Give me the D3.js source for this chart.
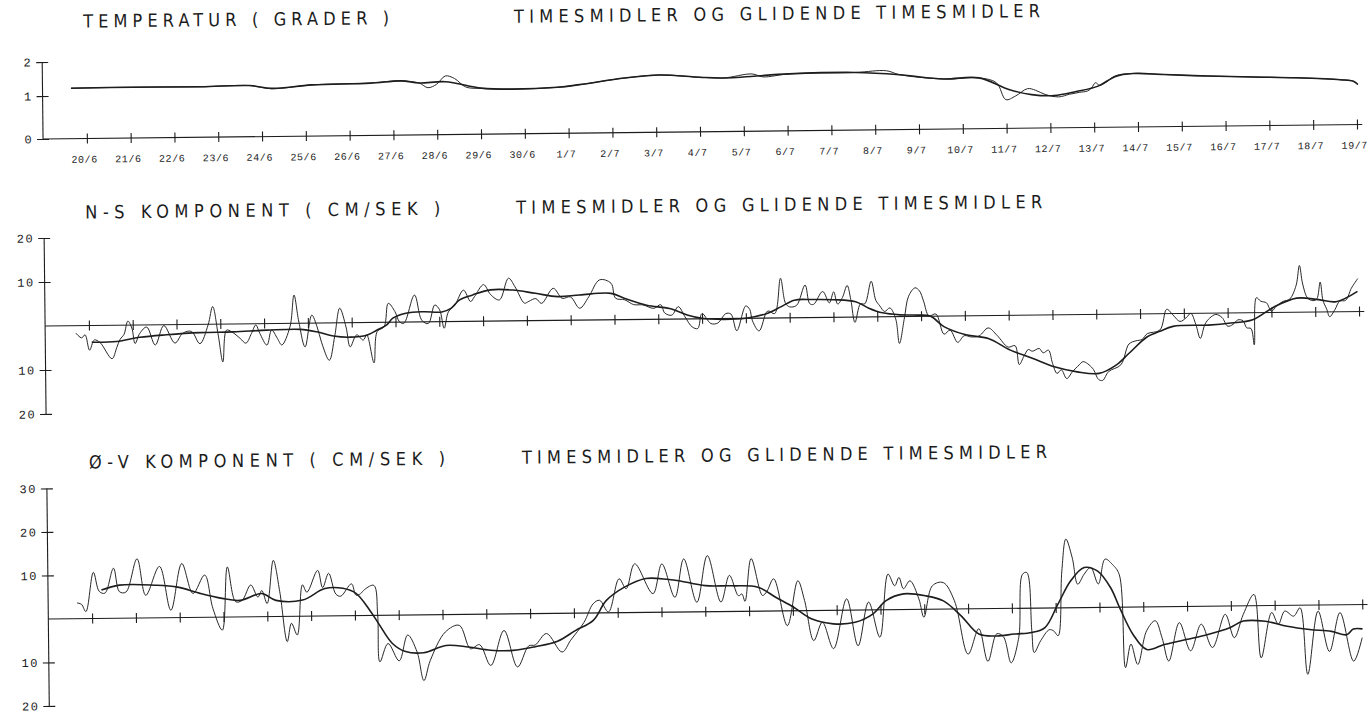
<!DOCTYPE html>
<html>
<head>
<meta charset="utf-8">
<script src="https://cdn.jsdelivr.net/npm/d3@7"></script>
<style>
  html, body { margin: 0; padding: 0; background: #ffffff; }
  svg { display: block; }
  text { font-family: "Liberation Mono", "DejaVu Sans Mono", monospace; fill: #1c1c1c; }
  .title { font-family: "Liberation Sans Narrow", "DejaVu Sans Condensed", "Liberation Sans", sans-serif; }
</style>
</head>
<body>
<svg id="chart" width="1371" height="714"></svg>
<script>
// ---- date labels under the temperature panel (day 1 = 20/6 ... day 30 = 19/7) ----
const dateLabels = ["20/6","21/6","22/6","23/6","24/6","25/6","26/6","27/6","28/6","29/6","30/6",
  "1/7","2/7","3/7","4/7","5/7","6/7","7/7","8/7","9/7","10/7","11/7","12/7","13/7","14/7",
  "15/7","16/7","17/7","18/7","19/7"];

// ---- temperature (grader): [day, value] ----
const tempHourly = [[0.65,1.22],[2.08,1.23],[3.61,1.22],[4.73,1.24],[5.23,1.14],[6.15,1.24],[7.48,1.28],
  [8.19,1.33],[8.60,1.26],[8.80,1.12],[9.00,1.22],[9.20,1.46],[9.41,1.38],[9.66,1.13],[10.02,1.08],
  [10.73,1.05],[11.76,1.09],[12.26,1.16],[13.29,1.34],[14.10,1.42],[15.00,1.34],[15.55,1.31],[16.20,1.42],
  [16.45,1.33],[17.05,1.41],[18.56,1.43],[19.27,1.47],[19.57,1.35],[20.57,1.21],[21.38,1.23],[21.78,1.08],
  [21.99,0.67],[22.21,0.75],[22.49,0.92],[22.67,0.88],[22.89,0.78],[23.20,0.72],[23.45,0.78],[23.67,0.82],
  [23.86,0.85],[23.95,0.92],[24.04,1.05],[24.13,0.98],[24.27,1.05],[24.50,1.25],[24.90,1.31],[25.61,1.27],
  [26.61,1.21],[27.62,1.17],[28.62,1.13],[29.63,1.06],[29.93,1.01],[30.03,0.93]];
const tempSmooth = [[0.65,1.22],[2.08,1.23],[3.61,1.22],[4.73,1.24],[5.23,1.15],[6.15,1.24],[7.48,1.27],
  [8.19,1.33],[8.60,1.26],[9.20,1.29],[10.02,1.09],[10.73,1.05],[11.76,1.09],[12.26,1.16],[13.29,1.34],
  [14.10,1.42],[15.00,1.34],[15.55,1.31],[17.05,1.41],[18.56,1.43],[19.57,1.35],[20.57,1.21],[21.38,1.23],
  [22.08,0.90],[22.58,0.78],[23.09,0.75],[23.60,0.84],[24.10,0.96],[24.50,1.23],[24.90,1.31],[25.61,1.27],
  [26.61,1.21],[27.62,1.17],[28.62,1.13],[29.63,1.06],[29.93,1.01],[30.03,0.93]];

// ---- N-S component (cm/sek): [day, value] ----
const nsHourly = [[0.70,-1.7],[0.83,-2.8],[0.91,-2.1],[1.01,-5.6],[1.12,-3.3],[1.25,-3.9],[1.52,-7.6],[1.63,-5.1],
  [1.71,-3.2],[1.80,-2.1],[1.89,0.9],[1.98,-0.7],[2.05,-4.2],[2.16,-1.9],[2.32,-0.5],[2.51,-4.6],[2.71,-0.2],
  [2.96,-4.2],[3.14,-2.0],[3.34,-1.6],[3.53,-4.4],[3.72,-0.2],[3.83,4.0],[3.95,-2.5],[4.05,-8.6],[4.14,-1.4],
  [4.26,-1.8],[4.45,-3.3],[4.58,-4.4],[4.71,-2.2],[4.81,-0.3],[4.90,-2.2],[5.06,-4.9],[5.17,-1.5],[5.30,-3.4],
  [5.40,-4.9],[5.59,-0.8],[5.69,6.4],[5.79,0.5],[5.93,-5.4],[6.09,1.8],[6.21,-0.9],[6.31,-4.5],[6.48,-8.5],
  [6.61,-3.0],[6.73,3.3],[6.87,-1.0],[6.96,-5.5],[7.11,-2.8],[7.26,-4.0],[7.34,-2.8],[7.50,-9.2],[7.58,-2.1],
  [7.74,-1.0],[7.84,4.3],[7.99,2.4],[8.09,0.1],[8.19,-0.3],[8.44,6.1],[8.60,0.4],[8.75,-0.4],[8.90,3.8],
  [9.01,2.7],[9.11,-1.5],[9.21,2.2],[9.36,3.7],[9.56,7.1],[9.72,4.5],[9.81,5.6],[10.02,8.3],[10.18,6.0],
  [10.38,4.8],[10.59,9.7],[10.74,7.7],[10.95,4.0],[11.05,4.4],[11.21,5.0],[11.34,3.9],[11.61,7.3],[11.81,5.0],
  [12.00,5.3],[12.21,2.7],[12.42,5.3],[12.67,9.1],[12.93,8.3],[13.03,4.9],[13.24,4.5],[13.44,3.4],[13.65,3.3],
  [13.90,2.5],[14.06,3.3],[14.15,1.4],[14.31,0.9],[14.46,2.8],[14.61,0.5],[14.77,-1.8],[14.90,-2.2],[15.00,1.2],
  [15.20,-1.1],[15.36,-1.0],[15.54,1.1],[15.66,1.0],[15.79,-2.8],[16.00,2.8],[16.09,2.0],[16.15,-0.6],[16.30,-2.9],
  [16.50,1.6],[16.66,1.0],[16.80,9.0],[16.91,3.3],[17.00,2.5],[17.16,2.8],[17.36,7.4],[17.46,3.2],[17.55,3.0],
  [17.76,5.9],[17.91,3.3],[18.01,5.8],[18.10,3.0],[18.21,4.5],[18.32,7.2],[18.40,4.0],[18.49,-1.2],[18.62,3.0],
  [18.72,3.0],[18.87,8.1],[18.97,3.8],[19.06,2.5],[19.17,1.2],[19.29,2.0],[19.42,-0.5],[19.50,-6.1],[19.62,-0.3],
  [19.72,4.6],[19.87,6.5],[19.97,5.8],[20.06,3.5],[20.18,0.1],[20.34,0.5],[20.52,-4.1],[20.66,-3.2],[20.83,-6.0],
  [20.98,-4.5],[21.14,-4.8],[21.32,-4.6],[21.53,-2.8],[21.73,-4.5],[21.98,-7.2],[22.14,-6.9],[22.23,-11.2],
  [22.34,-9.3],[22.44,-7.8],[22.53,-8.2],[22.69,-7.6],[22.78,-8.6],[22.90,-8.0],[22.99,-11.0],[23.09,-13.3],
  [23.19,-12.5],[23.31,-14.5],[23.44,-13.0],[23.60,-11.4],[23.69,-10.7],[23.90,-12.2],[24.04,-14.8],[24.13,-15.0],
  [24.27,-13.0],[24.55,-11.5],[24.74,-6.8],[24.90,-6.1],[25.04,-5.8],[25.16,-4.5],[25.45,-3.7],[25.61,1.0],
  [25.75,-0.3],[25.91,-1.8],[26.05,-1.0],[26.16,0.0],[26.27,-2.5],[26.37,-5.7],[26.48,-2.5],[26.59,-1.1],
  [26.73,-0.3],[26.87,-1.0],[27.00,-3.0],[27.12,-2.6],[27.23,-1.6],[27.35,-1.8],[27.43,-3.4],[27.53,-3.6],
  [27.60,-7.3],[27.66,3.4],[27.76,2.6],[27.89,2.2],[28.00,0.3],[28.12,1.5],[28.27,2.5],[28.42,3.0],[28.57,6.1],
  [28.65,10.6],[28.72,6.4],[28.83,3.2],[28.95,2.6],[29.04,3.0],[29.12,6.8],[29.18,2.6],[29.26,0.7],[29.33,-1.1],
  [29.45,0.5],[29.56,2.4],[29.70,2.6],[29.83,5.3],[29.98,7.5]];
const nsSmooth = [[1.06,-3.8],[1.63,-3.7],[2.16,-2.8],[2.77,-2.3],[3.53,-1.9],[4.29,-1.8],[5.06,-1.5],[5.82,-1.4],
  [6.20,-2.0],[6.58,-3.0],[6.96,-3.3],[7.34,-2.9],[7.57,-1.8],[7.80,-0.6],[7.94,0.9],[8.24,2.0],[8.65,2.3],
  [9.06,2.2],[9.27,3.0],[9.47,4.9],[9.77,6.0],[10.18,7.1],[10.69,7.0],[11.20,6.2],[11.71,5.4],[12.21,5.7],
  [12.93,6.0],[13.24,4.8],[13.74,3.2],[14.26,2.4],[14.66,0.9],[15.00,0.1],[15.50,-0.2],[16.00,0.0],[16.50,1.1],
  [16.80,2.5],[17.11,4.0],[17.51,4.1],[18.01,4.0],[18.51,3.5],[18.81,2.0],[19.12,0.9],[19.52,0.4],[19.93,0.3],
  [20.22,0.0],[20.52,-2.4],[21.02,-4.3],[21.53,-5.2],[22.03,-7.9],[22.53,-9.8],[23.03,-11.8],[23.55,-13.0],
  [24.05,-13.4],[24.45,-11.5],[24.74,-8.9],[25.16,-5.2],[25.45,-4.0],[25.75,-2.9],[26.56,-2.7],[27.07,-2.3],
  [27.57,-1.6],[28.07,1.3],[28.58,3.2],[29.08,2.8],[29.48,2.3],[29.97,4.6]];

// ---- Ø-V component (cm/sek): [day, value] ----
const evHourly = [[0.66,3.6],[0.76,3.3],[0.86,1.6],[1.04,10.6],[1.17,6.2],[1.30,5.8],[1.50,11.5],[1.63,6.1],
  [1.78,6.0],[2.04,13.6],[2.23,5.2],[2.55,11.8],[2.80,1.7],[3.06,12.4],[3.31,5.5],[3.58,9.7],[3.76,2.0],
  [3.97,-3.0],[4.10,11.5],[4.28,3.5],[4.43,3.8],[4.63,7.3],[4.79,4.5],[4.88,6.0],[5.00,3.0],[5.15,12.9],
  [5.29,5.7],[5.45,-5.8],[5.55,-1.6],[5.68,-4.3],[5.81,7.2],[5.91,5.5],[6.16,10.5],[6.27,6.5],[6.41,9.8],
  [6.57,5.0],[6.68,4.5],[6.93,7.3],[7.03,4.7],[7.13,5.0],[7.23,6.0],[7.44,6.9],[7.52,0.0],[7.56,-10.7],
  [7.75,-6.5],[8.00,-10.5],[8.20,-4.6],[8.41,-8.5],[8.56,-15.1],[8.71,-10.5],[9.06,-4.0],[9.38,-2.5],
  [9.63,-7.9],[9.84,-7.0],[10.09,-11.8],[10.40,-3.8],[10.70,-12.2],[10.96,-7.4],[11.11,-7.2],[11.37,-4.6],
  [11.72,-8.9],[11.92,-6.2],[12.23,-2.1],[12.44,2.1],[12.59,2.9],[12.79,0.2],[13.04,7.8],[13.20,5.5],
  [13.40,11.2],[13.81,4.3],[14.02,11.1],[14.31,3.4],[14.52,12.2],[14.81,2.2],[15.06,12.9],[15.36,2.2],
  [15.56,8.3],[15.76,3.6],[15.84,4.0],[15.91,2.3],[16.06,12.1],[16.31,3.6],[16.41,4.5],[16.57,7.4],
  [16.87,-3.4],[17.12,6.9],[17.27,2.3],[17.47,-6.9],[17.67,-2.7],[17.92,-8.8],[18.23,2.6],[18.48,-8.2],
  [18.73,1.8],[18.98,-6.3],[19.18,8.2],[19.33,5.5],[19.43,7.4],[19.53,4.8],[19.68,6.6],[19.88,2.4],
  [19.99,-1.8],[20.19,5.4],[20.44,6.1],[20.69,1.9],[20.99,-10.4],[21.24,-4.6],[21.44,-12.1],[21.65,-5.8],
  [21.80,-6.5],[21.97,-12.5],[22.15,-6.7],[22.25,7.8],[22.35,8.2],[22.45,-5.2],[22.50,-10.2],[22.65,-7.5],
  [22.85,-5.0],[22.95,-5.3],[23.05,-6.4],[23.15,8.5],[23.25,15.8],[23.39,11.5],[23.51,5.4],[23.66,7.7],
  [23.81,9.2],[23.98,5.4],[24.14,11.1],[24.31,9.8],[24.46,7.5],[24.58,-13.9],[24.71,-8.5],[24.86,-13.2],
  [25.07,-5.5],[25.27,-3.2],[25.42,-7.1],[25.57,-12.5],[25.82,-3.7],[26.07,-10.2],[26.32,-4.1],[26.57,-9.5],
  [26.87,-1.9],[27.07,-7.3],[27.28,-2.0],[27.53,2.6],[27.68,-12.0],[27.93,-1.6],[28.08,-4.3],[28.23,-1.3],
  [28.43,-2.5],[28.58,-0.6],[28.74,-15.9],[28.99,-1.4],[29.24,-10.7],[29.49,-1.8],[29.79,-13.0],[29.99,-7.6]];
const evSmooth = [[1.22,6.5],[1.63,7.6],[2.44,7.5],[2.96,7.0],[3.47,5.5],[3.97,4.3],[4.38,3.8],[4.88,5.3],
  [5.20,3.7],[5.81,3.7],[6.32,6.3],[6.73,6.3],[7.03,5.1],[7.34,1.2],[7.54,-1.9],[7.85,-6.5],[8.15,-8.4],
  [8.56,-8.7],[9.07,-7.1],[9.58,-7.5],[10.09,-8.3],[10.60,-8.4],[11.11,-7.6],[11.62,-6.4],[12.03,-4.0],
  [12.44,-1.7],[12.74,2.8],[13.15,5.8],[13.65,7.8],[14.17,7.5],[14.40,7.2],[15.01,6.0],[15.61,5.9],[16.21,5.5],
  [16.62,3.1],[17.02,0.8],[17.42,-1.9],[17.92,-3.1],[18.42,-2.8],[18.83,-0.9],[19.13,2.1],[19.53,3.6],
  [20.04,3.1],[20.44,1.9],[20.84,-1.6],[21.24,-5.8],[21.65,-6.3],[22.05,-5.9],[22.45,-5.6],[22.75,-4.5],
  [23.05,0.8],[23.35,6.2],[23.66,9.2],[23.96,8.4],[24.26,4.5],[24.46,-0.1],[24.76,-6.3],[25.07,-9.8],
  [25.47,-8.7],[25.97,-7.6],[26.47,-6.5],[26.97,-5.0],[27.28,-3.5],[27.78,-3.6],[28.28,-4.8],[28.79,-5.6],
  [29.29,-6.1],[29.64,-6.9],[29.79,-5.6],[30.00,-5.6]];

// ---- y tick values and their printed labels (negative side printed without sign) ----
const tempTicks = [0, 1, 2];
const tempTickLabels = ["0", "1", "2"];
const nsTicks = [20, 10, -10, -20];
const nsTickLabels = ["20", "10", "10", "20"];
const evTicks = [30, 20, 10, -10, -20];
const evTickLabels = ["30", "20", "10", "10", "20"];

const subtitle = "TIMESMIDLER OG GLIDENDE TIMESMIDLER";

// ---------------------------------------------------------------------------
const svg = d3.select("#chart");
// the plotted sheet sits slightly askew
const sheet = svg.append("g").attr("transform", "rotate(-0.63,45,380)");

const x = d3.scaleLinear().domain([0, 30]).range([45.7, 1359.7]);
const axisX = x(0);
const lineEnd = 30.12;
const ink = "#1d1d1d";

const panels = [
  { name: "TEMPERATUR ( GRADER )", nameX: 87, nameLen: 306, subX: 518, subLen: 526, titleY: 28,
    y: d3.scaleLinear().domain([0, 1, 2]).range([139, 96, 62]),
    top: 2, bottom: 0, ticks: tempTicks, tickLabels: tempTickLabels,
    hourly: tempHourly, smooth: tempSmooth, dates: true },
  { name: "N-S KOMPONENT ( CM/SEK )", nameX: 87, nameLen: 355, subX: 518, subLen: 526, titleY: 219,
    y: d3.scaleLinear().domain([-20, 20]).range([414, 238]),
    top: 20, bottom: -20, ticks: nsTicks, tickLabels: nsTickLabels,
    hourly: nsHourly, smooth: nsSmooth, dates: false },
  { name: "\u00d8-V KOMPONENT ( CM/SEK )", nameX: 88, nameLen: 356, subX: 521, subLen: 525, titleY: 469,
    y: d3.scaleLinear().domain([-20, 30]).range([706, 488.5]),
    top: 30, bottom: -20, ticks: evTicks, tickLabels: evTickLabels,
    hourly: evHourly, smooth: evSmooth, dates: false }
];

panels.forEach(p => {
  const g = sheet.append("g");
  const y = p.y;

  // titles
  g.append("text").attr("class", "title").attr("x", p.nameX).attr("y", p.titleY)
    .attr("font-size", 18).attr("textLength", p.nameLen).attr("lengthAdjust", "spacing")
    .text(p.name);
  g.append("text").attr("class", "title").attr("x", p.subX).attr("y", p.titleY)
    .attr("font-size", 18).attr("textLength", p.subLen).attr("lengthAdjust", "spacing")
    .text(subtitle);

  // vertical value axis with crossing ticks
  const yAxis = d3.axisLeft(y).tickValues(p.ticks)
    .tickFormat((d, i) => p.tickLabels[i]).tickSizeInner(6).tickSizeOuter(0).tickPadding(4);
  const ya = g.append("g").attr("transform", `translate(${axisX},0)`).call(yAxis);
  ya.select(".domain").attr("d", `M0,${y(p.top)}V${y(p.bottom)}`).attr("stroke", ink).attr("stroke-width", 1.1);
  ya.selectAll(".tick line").attr("x1", 6).attr("x2", -6).attr("stroke", ink).attr("stroke-width", 1.1);
  ya.selectAll(".tick text").attr("font-size", 12).attr("font-family", "Liberation Mono, monospace")
    .attr("fill", "#1c1c1c").attr("letter-spacing", 1.5);

  // zero line with day ticks
  const days = dateLabels.map((d, i) => i + 1);
  const xAxis = d3.axisBottom(x).tickValues(days)
    .tickFormat((d, i) => p.dates ? dateLabels[i] : "").tickSizeInner(5).tickSizeOuter(0).tickPadding(12);
  const xa = g.append("g").attr("transform", `translate(0,${y(0)})`).call(xAxis);
  xa.select(".domain").attr("d", `M${x(0)},0H${x(lineEnd)}`).attr("stroke", ink).attr("stroke-width", 1.1);
  xa.selectAll(".tick line").attr("y1", -5).attr("y2", 5).attr("stroke", ink).attr("stroke-width", 1.1);
  xa.selectAll(".tick text").attr("font-size", 10).attr("font-family", "Liberation Mono, monospace")
    .attr("fill", "#1c1c1c").attr("dx", -3).attr("letter-spacing", 0.6);

  // hourly means (thin) and running means (heavier)
  const line = d3.line().x(d => x(d[0])).y(d => y(d[1])).curve(d3.curveCatmullRom.alpha(0.5));
  g.append("path").datum(p.hourly).attr("d", line)
    .attr("fill", "none").attr("stroke", ink).attr("stroke-width", 0.95).attr("stroke-linejoin", "round");
  g.append("path").datum(p.smooth).attr("d", line)
    .attr("fill", "none").attr("stroke", ink).attr("stroke-width", 1.6).attr("stroke-linejoin", "round");
});
</script>
</body>
</html>
